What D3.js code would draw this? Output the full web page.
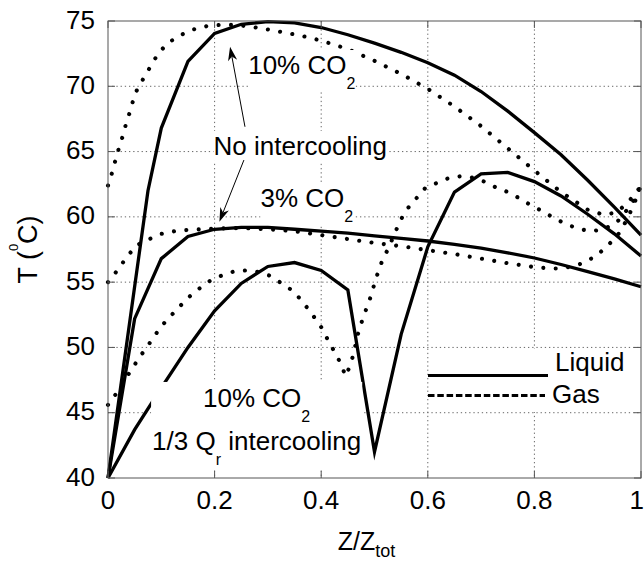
<!DOCTYPE html>
<html>
<head>
<meta charset="utf-8">
<script src="https://cdn.jsdelivr.net/npm/d3@7"></script>
<style>
  html, body { margin: 0; padding: 0; background: #fff; }
  svg { display: block; }
  text { font-family: "Liberation Sans", Arial, Helvetica, sans-serif; fill: #000; }
</style>
</head>
<body>
<svg id="chart" width="644" height="561"></svg>
<script>
// Temperature profiles along the packing, [Z/Ztot, T in °C]

// Liquid, 10% CO2, no intercooling
const liquid10NoIC = [[0,40],[0.075,62.0],[0.1,66.8],[0.15,71.9],[0.2,74.05],[0.25,74.75],[0.3,74.95],[0.35,74.85],[0.4,74.5],[0.45,73.95],[0.5,73.3],[0.55,72.6],[0.6,71.8],[0.65,70.85],[0.7,69.6],[0.75,68.1],[0.8,66.45],[0.85,64.75],[0.9,62.8],[0.95,60.75],[1,58.6]];

// Gas, 10% CO2, no intercooling
const gas10NoIC = [[0,62.4],[0.007,63.3],[0.013,64.2],[0.02,65.2],[0.027,66.1],[0.033,67.0],[0.04,67.9],[0.047,68.9],[0.055,69.8],[0.068,70.7],[0.081,71.6],[0.094,72.5],[0.112,73.3],[0.135,73.9],[0.16,74.35],[0.185,74.6],[0.21,74.7],[0.24,74.7],[0.27,74.55],[0.3,74.35],[0.34,74.05],[0.37,73.8],[0.4,73.5],[0.45,72.85],[0.5,71.95],[0.55,70.95],[0.6,69.8],[0.65,68.45],[0.7,66.95],[0.75,65.25],[0.8,63.55],[0.85,61.9],[0.9,60.55],[0.93,60.15],[0.955,60.35],[0.975,61.1],[0.99,61.8],[1,62.4]];

// Liquid, 3% CO2, no intercooling
const liquid3NoIC = [[0,40],[0.05,52.2],[0.1,56.8],[0.15,58.5],[0.2,59.05],[0.25,59.2],[0.3,59.2],[0.35,59.05],[0.4,58.9],[0.45,58.75],[0.5,58.55],[0.55,58.35],[0.6,58.15],[0.65,57.9],[0.7,57.6],[0.75,57.25],[0.8,56.85],[0.85,56.35],[0.9,55.8],[0.95,55.25],[1,54.65]];

// Gas, 3% CO2, no intercooling
const gas3NoIC = [[0,55.0],[0.0175,55.9],[0.035,56.9],[0.0525,57.8],[0.075,58.25],[0.1,58.7],[0.125,58.9],[0.15,59.0],[0.2,59.1],[0.25,59.15],[0.3,59.05],[0.35,58.9],[0.4,58.6],[0.45,58.3],[0.5,58.0],[0.55,57.75],[0.6,57.45],[0.65,57.15],[0.7,56.8],[0.75,56.45],[0.8,56.15],[0.83,56.05],[0.85,56.05],[0.87,56.2],[0.895,56.5],[0.92,57.15],[0.94,57.9],[0.96,58.8],[0.975,59.9],[0.99,61.3],[1,62.4]];

// Liquid, 10% CO2, 1/3 Qr intercooling
const liquid10IC = [[0,40],[0.05,43.7],[0.1,46.9],[0.15,50.0],[0.2,52.8],[0.25,54.9],[0.3,56.2],[0.35,56.5],[0.4,55.9],[0.45,54.4],[0.5,42.0],[0.55,51.0],[0.6,57.7],[0.65,61.9],[0.7,63.3],[0.75,63.4],[0.8,62.7],[0.85,61.6],[0.9,60.2],[0.95,58.7],[1,57.0]];

// Gas, 10% CO2, 1/3 Qr intercooling
const gas10IC = [[0,45.6],[0.016,46.5],[0.03,47.4],[0.044,48.3],[0.06,49.3],[0.076,50.2],[0.091,51.1],[0.108,52.0],[0.129,52.9],[0.15,53.8],[0.171,54.5],[0.193,55.15],[0.213,55.5],[0.235,55.8],[0.26,55.9],[0.28,55.8],[0.303,55.5],[0.326,54.9],[0.348,54.3],[0.366,53.45],[0.382,52.6],[0.401,51.5],[0.411,50.7],[0.423,49.8],[0.435,48.9],[0.446,47.8],[0.453,48.5],[0.46,49.4],[0.47,51.2],[0.478,52.2],[0.485,53.0],[0.493,53.9],[0.5,54.9],[0.507,55.8],[0.515,56.7],[0.525,57.5],[0.545,59.4],[0.557,60.4],[0.576,61.3],[0.595,62.2],[0.617,62.6],[0.638,62.95],[0.66,63.1],[0.685,63.0],[0.706,62.7],[0.728,62.25],[0.75,61.9],[0.773,61.4],[0.795,60.85],[0.817,60.4],[0.839,59.85],[0.862,59.4],[0.886,59.05],[0.908,58.9],[0.93,59.05],[0.955,59.6],[0.975,60.6],[0.99,61.5],[1,62.4]];

// Axis ticks
const xTicks = [0, 0.2, 0.4, 0.6, 0.8, 1];
const xTickLabels = ["0", "0.2", "0.4", "0.6", "0.8", "1"];
const yTicks = [40, 45, 50, 55, 60, 65, 70, 75];
const yTickLabels = ["40", "45", "50", "55", "60", "65", "70", "75"];

// Legend entries
const legendLabels = ["Liquid", "Gas"];

// ---------------------------------------------------------------------------
const plot = { left: 108, top: 21, right: 641, bottom: 478 };
const FS = 26;

const svg = d3.select("#chart");
const x = d3.scaleLinear().domain([0, 1]).range([plot.left, plot.right]);
const y = d3.scaleLinear().domain([40, 75]).range([plot.bottom, plot.top]);

const line = d3.line().x(d => x(d[0])).y(d => y(d[1]));

// grid
const grid = svg.append("g").attr("stroke", "#666").attr("stroke-width", 1)
  .attr("stroke-dasharray", "1.3 2.9").attr("fill", "none");
xTicks.slice(1, -1).forEach(v => {
  grid.append("line").attr("x1", x(v)).attr("x2", x(v)).attr("y1", plot.top).attr("y2", plot.bottom);
});
yTicks.slice(1, -1).forEach(v => {
  grid.append("line").attr("x1", plot.left).attr("x2", plot.right).attr("y1", y(v)).attr("y2", y(v));
});

// curves
const solid = { stroke: "#000", width: 3.3, dash: null };
const dotted = { stroke: "#000", width: 4.1, dash: "0.01 12.4" };
const curves = [
  [liquid10NoIC, solid], [gas10NoIC, dotted],
  [liquid3NoIC, solid], [gas3NoIC, dotted],
  [liquid10IC, solid], [gas10IC, dotted]
];
const curveG = svg.append("g").attr("fill", "none");
curves.forEach(([data, st]) => {
  curveG.append("path").attr("d", line(data))
    .attr("stroke", st.stroke).attr("stroke-width", st.width)
    .attr("stroke-linejoin", "miter").attr("stroke-miterlimit", 6)
    .attr("stroke-linecap", st.dash ? "round" : "butt")
    .attr("stroke-dasharray", st.dash);
});

// annotations: text with white background
const annG = svg.append("g");
function richText(g, px, py, parts, anchor, baseSize, subShift) {
  const fs = baseSize || FS;
  const t = g.append("text").attr("x", px).attr("y", py)
    .attr("font-size", fs).attr("text-anchor", anchor || "start");
  let shift = 0;
  parts.forEach(p => {
    const target = p.sub ? (subShift || 15) : (p.sup ? -19 : 0);
    const ts = t.append("tspan").text(p.t)
      .attr("font-size", p.sub || p.sup ? (p.size || 16) : fs);
    if (target !== shift) { ts.attr("dy", target - shift); shift = target; }
  });
  return t;
}
function backed(build, pad) {
  const g = annG.append("g");
  const bg = g.append("rect").attr("fill", "#fff");
  const inner = g.append("g");
  build(inner);
  const b = inner.node().getBBox();
  bg.attr("x", b.x - pad).attr("y", b.y - pad)
    .attr("width", b.width + 2 * pad).attr("height", b.height + 2 * pad);
}

backed(g => richText(g, x(0.263), y(70.94), [{ t: "10% CO" }, { t: "2", sub: true }]), 0);
backed(g => richText(g, x(0.198), y(64.74), [{ t: "No intercooling" }]), 0);
backed(g => richText(g, x(0.286), y(60.78), [{ t: "3% CO" }, { t: "2", sub: true }]), 0);
backed(g => {
  richText(g, x(0.2789), y(45.44), [{ t: "10% CO" }, { t: "2", sub: true }], "middle");
  richText(g, x(0.2789), y(42.14), [{ t: "1/3 Q" }, { t: "r", sub: true }, { t: " intercooling" }], "middle");
}, 1);

// arrows from "No intercooling"
function arrow(z0, t0, z1, t1) {
  const x0 = x(z0), y0 = y(t0), x1 = x(z1), y1 = y(t1);
  const dx = x1 - x0, dy = y1 - y0, L = Math.hypot(dx, dy);
  const ux = dx / L, uy = dy / L, nx = -uy, ny = ux;
  const hl = 14, hw = 4.6, notch = 10;
  annG.append("line").attr("x1", x0).attr("y1", y0)
    .attr("x2", x1 - ux * notch).attr("y2", y1 - uy * notch)
    .attr("stroke", "#000").attr("stroke-width", 1);
  const p = [
    [x1, y1],
    [x1 - ux * hl + nx * hw, y1 - uy * hl + ny * hw],
    [x1 - ux * notch, y1 - uy * notch],
    [x1 - ux * hl - nx * hw, y1 - uy * hl - ny * hw]
  ];
  annG.append("path").attr("d", "M" + p.map(q => q.join(",")).join("L") + "Z").attr("fill", "#000");
}
arrow(0.257, 66.9, 0.229, 73.03);
arrow(0.255, 64.35, 0.209, 59.63);

// legend
const lg = svg.append("g");
lg.append("rect").attr("x", x(0.6) + 2).attr("y", 349).attr("width", plot.right - x(0.6) - 2).attr("height", 63).attr("fill", "#fff");
const legendDash = [null, "6.5 2.8"];
legendLabels.forEach((lab, i) => {
  const ly = 375.5 + i * 20;
  lg.append("line").attr("x1", 428).attr("x2", i === 0 ? 548 : 545).attr("y1", ly).attr("y2", ly)
    .attr("stroke", "#000").attr("stroke-width", 2.8)
    .attr("stroke-dasharray", legendDash[i]);
  lg.append("text").attr("x", i === 0 ? 555 : 552).attr("y", i === 0 ? 371 : 402.5)
    .attr("font-size", FS).text(lab);
});

// frame and ticks
const axG = svg.append("g").attr("stroke", "#555").attr("stroke-width", 1).attr("fill", "none");
axG.append("rect").attr("x", plot.left).attr("y", plot.top)
  .attr("width", plot.right - plot.left).attr("height", plot.bottom - plot.top);
const tl = 7;
xTicks.forEach(v => {
  axG.append("line").attr("x1", x(v)).attr("x2", x(v)).attr("y1", plot.bottom).attr("y2", plot.bottom - tl);
  axG.append("line").attr("x1", x(v)).attr("x2", x(v)).attr("y1", plot.top).attr("y2", plot.top + tl);
});
yTicks.forEach(v => {
  axG.append("line").attr("x1", plot.left).attr("x2", plot.left + tl).attr("y1", y(v)).attr("y2", y(v));
  axG.append("line").attr("x1", plot.right).attr("x2", plot.right - tl).attr("y1", y(v)).attr("y2", y(v));
});

// tick labels
const labG = svg.append("g").attr("font-size", FS);
xTicks.forEach((v, i) => {
  const last = i === xTicks.length - 1;
  labG.append("text").attr("x", last ? x(v) + 3 : x(v)).attr("y", plot.bottom + 31)
    .attr("text-anchor", last ? "end" : "middle").text(xTickLabels[i]);
});
yTicks.forEach((v, i) => {
  labG.append("text").attr("x", plot.left - 13).attr("y", y(v) + 7.5).attr("text-anchor", "end").text(yTickLabels[i]);
});

// axis titles
richText(svg, (plot.left + plot.right) / 2 - 8, 550, [{ t: "Z/Z" }, { t: "tot", sub: true, size: 18 }], "middle", 25, 7);
richText(svg.append("g").attr("transform", `translate(37,${(plot.top + plot.bottom) / 2}) rotate(-90)`), 0, 0,
  [{ t: "T (" }, { t: "0", sup: true, size: 13 }, { t: "C)" }], "middle", 27);
</script>
</body>
</html>
